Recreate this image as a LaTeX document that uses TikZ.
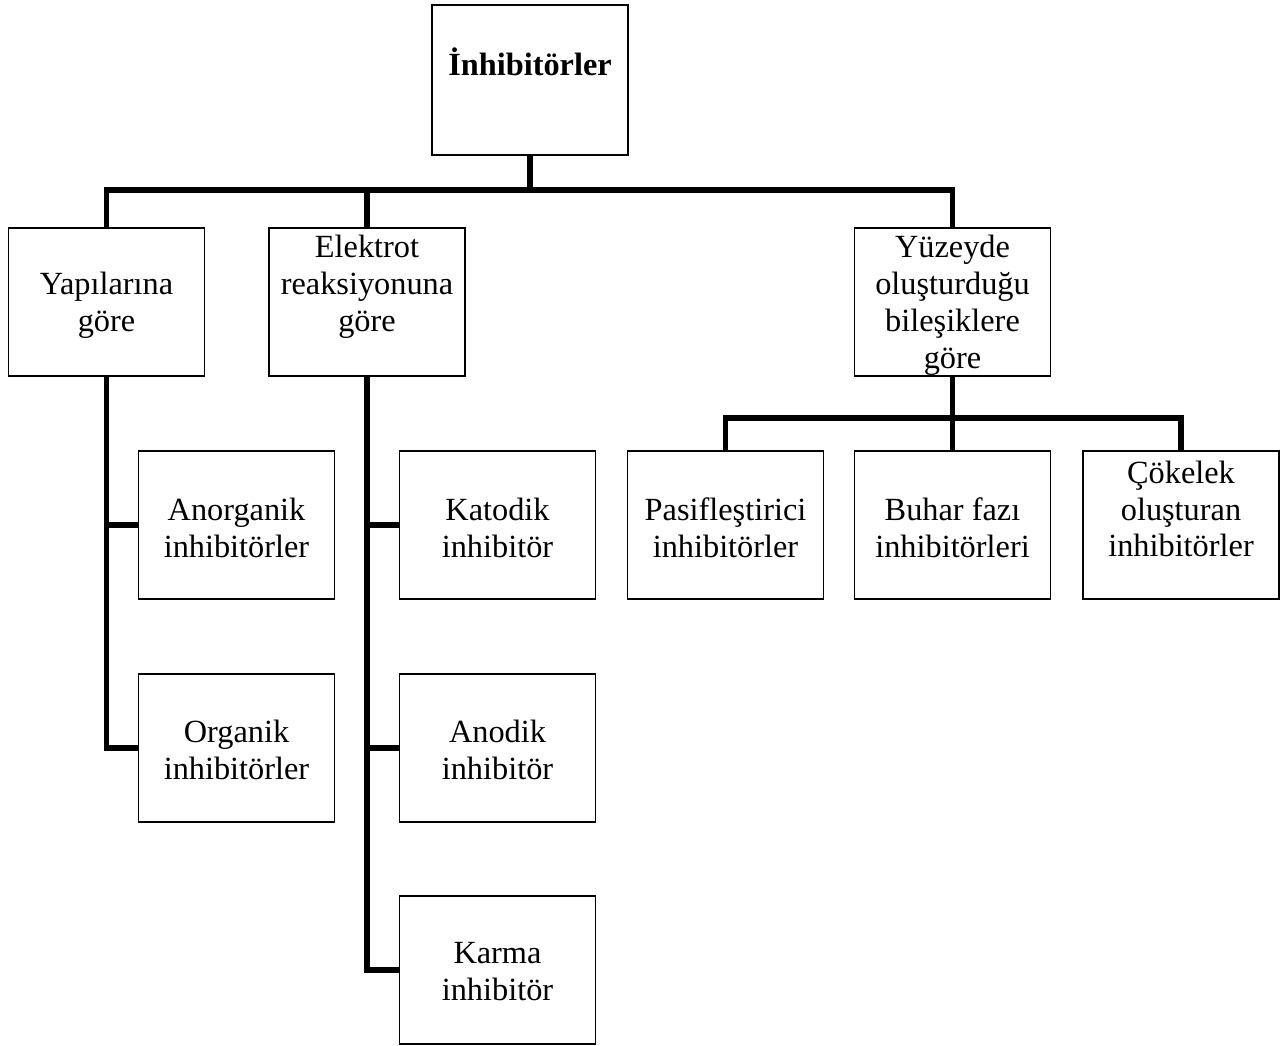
\documentclass[tikz,border=0pt]{standalone}
\usepackage{fontspec}
\setmainfont{Liberation Serif}
\usepackage{tikz}

\begin{document}
\begin{tikzpicture}[x=0.02cm, y=-0.02cm,
	box/.style = {draw, line width=1.1pt, minimum width=3.92cm, minimum height=2.96cm, inner sep=0pt},
	txt/.style = {align=center, font=\fontsize{18.4}{21}\selectfont, inner sep=0pt},
	conn/.style = {line width=2.9pt}]
	\useasboundingbox (0,0) rectangle (1288,1045);
	% boxes
	\node[box, minimum height=3cm] (root) at (530,80){};
	\node[box] (yapi) at (106.5,302){};
	\node[box] (elek) at (367,302){};
	\node[box] (yuzey) at (952.5,302){};
	\node[box] (ano) at (236.5,525){};
	\node[box] (org) at (236.5,748){};
	\node[box] (kat) at (497.5,525){};
	\node[box] (anod) at (497.5,748){};
	\node[box] (karma) at (497.5,970){};
	\node[box] (pasif) at (725.5,525){};
	\node[box] (buhar) at (952.5,525){};
	\node[box] (cokel) at (1181,525){};
	% texts
	\node[txt, font=\fontsize{18.4}{21}\selectfont\bfseries] (rootT) at (530,62){İnhibitörler};
	\node[txt] (yapiT) at (106.5,305){Yapılarına\\göre};
	\node[txt] (elekT) at (367,287){Elektrot\\reaksiyonuna\\göre};
	\node[txt] (yuzeyT) at (952.5,305){Yüzeyde\\oluşturduğu\\bileşiklere\\göre};
	\node[txt] (anoT) at (236.5,528){Anorganik\\inhibitörler};
	\node[txt] (orgT) at (236.5,750){Organik\\inhibitörler};
	\node[txt] (katT) at (497.5,528){Katodik\\inhibitör};
	\node[txt] (anodT) at (497.5,750){Anodik\\inhibitör};
	\node[txt] (karmaT) at (497.5,972){Karma\\inhibitör};
	\node[txt] (pasifT) at (725.5,528){Pasifleştirici\\inhibitörler};
	\node[txt] (buharT) at (952.5,528){Buhar fazı\\inhibitörleri};
	\node[txt] (cokelT) at (1181,509){Çökelek\\oluşturan\\inhibitörler};
	% connectors
	\draw[conn] (root.south) -- (530,190) coordinate (busA);
	\draw[conn] (yapi.north) |- (busA) -| (yuzey.north);
	\draw[conn] (elek.north) -- (elek.north |- busA);
	\draw[conn] (yapi.south) |- (org.west);
	\draw[conn] (yapi.south |- ano.west) -- (ano.west);
	\draw[conn] (elek.south) |- (karma.west);
	\draw[conn] (elek.south |- kat.west) -- (kat.west);
	\draw[conn] (elek.south |- anod.west) -- (anod.west);
	\draw[conn] (yuzey.south) -- (952.5,418) coordinate (busB);
	\draw[conn] (pasif.north) |- (busB) -| (cokel.north);
	\draw[conn] (buhar.north) -- (busB);
\end{tikzpicture}
\end{document}
